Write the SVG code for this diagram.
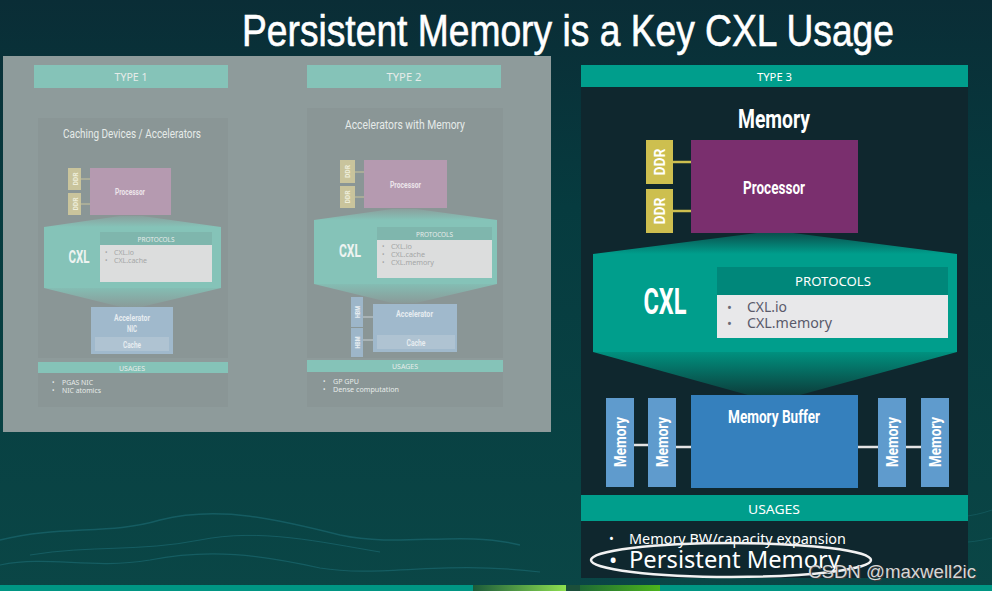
<svg xmlns="http://www.w3.org/2000/svg" width="992" height="591" viewBox="0 0 992 591">
<defs>
<linearGradient id="bg" x1="0" y1="0" x2="0" y2="1">
<stop offset="0" stop-color="#0a2d36"/>
<stop offset="0.35" stop-color="#063b3f"/>
<stop offset="1" stop-color="#0a4646"/>
</linearGradient>
<linearGradient id="wedgeTop3" x1="0" y1="0" x2="0" y2="1">
<stop offset="0" stop-color="#0a4f4c"/>
<stop offset="1" stop-color="#009e8c"/>
</linearGradient>
<linearGradient id="wedgeBot3" x1="0" y1="0" x2="0" y2="1">
<stop offset="0" stop-color="#00917f"/>
<stop offset="1" stop-color="#0c3e3c"/>
</linearGradient>
<linearGradient id="wedgeTopF" x1="0" y1="0" x2="0" y2="1">
<stop offset="0" stop-color="#8aa09d"/>
<stop offset="1" stop-color="#85c3b8"/>
</linearGradient>
<linearGradient id="wedgeBotF" x1="0" y1="0" x2="0" y2="1">
<stop offset="0" stop-color="#84bdb3"/>
<stop offset="1" stop-color="#8a9b99"/>
</linearGradient>
<linearGradient id="green1" x1="0" y1="0" x2="1" y2="0">
<stop offset="0" stop-color="#1b5a3a"/>
<stop offset="1" stop-color="#8ee050"/>
</linearGradient>
<linearGradient id="green2" x1="0" y1="0" x2="1" y2="0">
<stop offset="0" stop-color="#1f6a34"/>
<stop offset="1" stop-color="#4cb51c"/>
</linearGradient>
<style>
.cd{font-family:Roboto,"Liberation Sans",sans-serif;font-weight:bold;fill:#ffffff;text-anchor:middle}
.rg{font-family:"Noto Sans","Liberation Sans",sans-serif;fill:#ffffff}
.mid{text-anchor:middle}
.fw{fill:#e6ebe9}
.fb{fill:#a4a6a6}
.panelF{fill:#8a9696}
.hdrF{fill:#85c3b8}
.cxlF{fill:#85c3b8}
.protF{fill:#7fb6ad}
.bodyF{fill:#dcdddd}
.ddrF{fill:#c9c49c}
.procF{fill:#b59ab0}
.accF{fill:#a0b9cc}
.cacheF{fill:#afc3d2}
.hbmF{fill:#9db6c9}
.lnF{stroke:#c9c49c;stroke-width:1}
.lnH{stroke:#c8d0d4;stroke-width:1}
.teal{fill:#009e8c}
.ddr{fill:#cdbf4f}
.mem{fill:#5f9bcd}
.lnW{stroke:#e4e4e4;stroke-width:2.5}
.lnD{stroke:#cdbf4f;stroke-width:2.5}
</style>
</defs>

<!-- background -->
<rect x="0" y="0" width="992" height="591" fill="url(#bg)"/>
<g fill="none" stroke="#2b8a98" stroke-opacity="0.35">
<path d="M0,540 C60,525 110,535 160,520 C220,505 280,520 340,535 C400,548 460,530 520,545" stroke-width="1.5"/>
<path d="M0,565 C50,555 90,570 150,560 C210,548 260,555 320,568 C380,578 440,560 540,572" stroke-width="1.2"/>
<path d="M30,555 C90,545 140,552 200,540 C260,528 320,542 380,552" stroke-width="1"/>
</g>
<g fill="none" stroke="#2b8a98" stroke-opacity="0.25">
<path d="M880,520 C910,512 950,525 992,510" stroke-width="1"/>
<path d="M860,545 C900,535 945,550 992,538" stroke-width="1"/>
</g>
<rect x="0" y="585" width="992" height="6" fill="#009684"/>
<rect x="473" y="585" width="93" height="6" fill="url(#green1)"/>
<rect x="566" y="585" width="14" height="6" fill="#1b4f3a"/>
<rect x="580" y="585" width="80" height="6" fill="url(#green2)"/>

<!-- title -->
<text id="title" x="242" y="46" font-family="'Liberation Sans',Arial,sans-serif" font-size="44" fill="#ffffff" stroke="#ffffff" stroke-width="0.6" textLength="652" lengthAdjust="spacingAndGlyphs">Persistent Memory is a Key CXL Usage</text>

<!-- faded left panel -->
<rect x="3" y="56" width="548" height="376" fill="#8e9b9b"/>

<g id="type1">
<rect x="34" y="65" width="194" height="23" class="hdrF"/>
<text x="131" y="81" class="rg mid fw" font-size="10" textLength="33" lengthAdjust="spacingAndGlyphs">TYPE 1</text>
<rect x="38" y="118" width="190" height="240" class="panelF"/>
<text x="132" y="138" class="cd" font-size="12" style="fill:#e6ebe9;font-weight:normal" textLength="138" lengthAdjust="spacingAndGlyphs">Caching Devices / Accelerators</text>
<rect x="68" y="168" width="13" height="22" class="ddrF"/>
<rect x="68" y="193" width="13" height="22" class="ddrF"/>
<line x1="81" y1="179" x2="90" y2="179" class="lnF"/>
<line x1="81" y1="204" x2="90" y2="204" class="lnF"/>
<text transform="translate(77.5,179) rotate(-90)" class="cd" font-size="7" style="fill:#eeeeda" textLength="13" lengthAdjust="spacingAndGlyphs">DDR</text>
<text transform="translate(77.5,204) rotate(-90)" class="cd" font-size="7" style="fill:#eeeeda" textLength="13" lengthAdjust="spacingAndGlyphs">DDR</text>
<rect x="90" y="168" width="81" height="47" class="procF"/>
<text x="130" y="195" class="cd" font-size="9" style="fill:#ece4ea" textLength="30" lengthAdjust="spacingAndGlyphs">Processor</text>
<polygon points="44,227 120,216 142,216 221,227" fill="url(#wedgeTopF)"/>
<rect x="44" y="227" width="177" height="61" class="cxlF"/>
<polygon points="44,288 221,288 141,307 121,307" fill="url(#wedgeBotF)"/>
<text x="79" y="263" class="cd" font-size="18" style="fill:#eef3f1" textLength="21" lengthAdjust="spacingAndGlyphs">CXL</text>
<rect x="100" y="232" width="112" height="13" class="protF"/>
<rect x="100" y="245" width="112" height="37" class="bodyF"/>
<text x="156" y="242" class="rg mid fw" font-size="7" textLength="37" lengthAdjust="spacingAndGlyphs">PROTOCOLS</text>
<text x="105" y="255" class="rg fb" font-size="6.5">•</text>
<text x="114" y="255" class="rg fb" font-size="7" textLength="20" lengthAdjust="spacingAndGlyphs">CXL.io</text>
<text x="105" y="263" class="rg fb" font-size="6.5">•</text>
<text x="114" y="263" class="rg fb" font-size="7" textLength="33" lengthAdjust="spacingAndGlyphs">CXL.cache</text>
<rect x="91" y="307" width="82" height="47" class="accF"/>
<text x="132" y="321" class="cd" font-size="9" style="fill:#e6ecf0" textLength="36" lengthAdjust="spacingAndGlyphs">Accelerator</text>
<text x="132" y="332" class="cd" font-size="9" style="fill:#e6ecf0" textLength="10" lengthAdjust="spacingAndGlyphs">NIC</text>
<rect x="95" y="337" width="74" height="14" class="cacheF"/>
<text x="132" y="347.5" class="cd" font-size="9" style="fill:#e6ecf0" textLength="18" lengthAdjust="spacingAndGlyphs">Cache</text>
<rect x="38" y="362" width="190" height="11" class="hdrF"/>
<text x="132" y="370.5" class="rg mid fw" font-size="7" textLength="26" lengthAdjust="spacingAndGlyphs">USAGES</text>
<rect x="38" y="373" width="190" height="34" class="panelF"/>
<text x="52" y="385" class="rg fw" font-size="6.5">•</text>
<text x="62" y="385" class="rg fw" font-size="7" textLength="31" lengthAdjust="spacingAndGlyphs">PGAS NIC</text>
<text x="52" y="393" class="rg fw" font-size="6.5">•</text>
<text x="62" y="393" class="rg fw" font-size="7" textLength="39" lengthAdjust="spacingAndGlyphs">NIC atomics</text>
</g>

<g id="type2">
<rect x="307" y="65" width="194" height="23" class="hdrF"/>
<text x="404" y="81" class="rg mid fw" font-size="10" textLength="35" lengthAdjust="spacingAndGlyphs">TYPE 2</text>
<rect x="307" y="108" width="196" height="250" class="panelF"/>
<text x="405" y="129" class="cd" font-size="12" style="fill:#e6ebe9;font-weight:normal" textLength="120" lengthAdjust="spacingAndGlyphs">Accelerators with Memory</text>
<rect x="340" y="160" width="15" height="23" class="ddrF"/>
<rect x="340" y="186" width="15" height="22" class="ddrF"/>
<line x1="355" y1="172" x2="364" y2="172" class="lnF"/>
<line x1="355" y1="197" x2="364" y2="197" class="lnF"/>
<text transform="translate(350,171.5) rotate(-90)" class="cd" font-size="7" style="fill:#eeeeda" textLength="13" lengthAdjust="spacingAndGlyphs">DDR</text>
<text transform="translate(350,197) rotate(-90)" class="cd" font-size="7" style="fill:#eeeeda" textLength="13" lengthAdjust="spacingAndGlyphs">DDR</text>
<rect x="364" y="160" width="83" height="48" class="procF"/>
<text x="405.5" y="188" class="cd" font-size="9" style="fill:#ece4ea" textLength="31" lengthAdjust="spacingAndGlyphs">Processor</text>
<polygon points="314,220 392,209 416,209 497,220" fill="url(#wedgeTopF)"/>
<rect x="314" y="220" width="183" height="64" class="cxlF"/>
<polygon points="314,284 497,284 416,303 392,303" fill="url(#wedgeBotF)"/>
<text x="350" y="257" class="cd" font-size="18" style="fill:#eef3f1" textLength="22" lengthAdjust="spacingAndGlyphs">CXL</text>
<rect x="377" y="227" width="115" height="13" class="protF"/>
<rect x="377" y="240" width="115" height="38" class="bodyF"/>
<text x="434.5" y="236.5" class="rg mid fw" font-size="7" textLength="37" lengthAdjust="spacingAndGlyphs">PROTOCOLS</text>
<text x="382" y="249" class="rg fb" font-size="6.5">•</text>
<text x="391" y="249" class="rg fb" font-size="7" textLength="21" lengthAdjust="spacingAndGlyphs">CXL.io</text>
<text x="382" y="257" class="rg fb" font-size="6.5">•</text>
<text x="391" y="257" class="rg fb" font-size="7" textLength="34" lengthAdjust="spacingAndGlyphs">CXL.cache</text>
<text x="382" y="265" class="rg fb" font-size="6.5">•</text>
<text x="391" y="265" class="rg fb" font-size="7" textLength="43" lengthAdjust="spacingAndGlyphs">CXL.memory</text>
<rect x="351" y="297" width="12" height="30" class="hbmF"/>
<rect x="351" y="328" width="12" height="29" class="hbmF"/>
<line x1="363" y1="317" x2="373" y2="317" class="lnH"/>
<line x1="363" y1="340" x2="373" y2="340" class="lnH"/>
<text transform="translate(359.5,312) rotate(-90)" class="cd" font-size="6.5" style="fill:#e6ecf0" textLength="12" lengthAdjust="spacingAndGlyphs">HBM</text>
<text transform="translate(359.5,342.5) rotate(-90)" class="cd" font-size="6.5" style="fill:#e6ecf0" textLength="12" lengthAdjust="spacingAndGlyphs">HBM</text>
<rect x="373" y="304" width="84" height="48" class="accF"/>
<text x="414.5" y="317" class="cd" font-size="9" style="fill:#e6ecf0" textLength="37" lengthAdjust="spacingAndGlyphs">Accelerator</text>
<rect x="377" y="335" width="78" height="14" class="cacheF"/>
<text x="416" y="345.5" class="cd" font-size="9" style="fill:#e6ecf0" textLength="19" lengthAdjust="spacingAndGlyphs">Cache</text>
<rect x="307" y="360" width="196" height="12" class="hdrF"/>
<text x="405" y="369" class="rg mid fw" font-size="7" textLength="26" lengthAdjust="spacingAndGlyphs">USAGES</text>
<rect x="307" y="372" width="196" height="35" class="panelF"/>
<text x="323" y="384" class="rg fw" font-size="6.5">•</text>
<text x="333" y="384" class="rg fw" font-size="7" textLength="26" lengthAdjust="spacingAndGlyphs">GP GPU</text>
<text x="323" y="392" class="rg fw" font-size="6.5">•</text>
<text x="333" y="392" class="rg fw" font-size="7" textLength="66" lengthAdjust="spacingAndGlyphs">Dense computation</text>
</g>

<!-- type 3 -->
<g id="type3">
<rect x="581" y="65" width="387" height="513" fill="#0f272e"/>
<rect x="581" y="65" width="387" height="22" class="teal"/>
<text x="774.5" y="81" class="rg mid" font-size="11.5" textLength="35" lengthAdjust="spacingAndGlyphs">TYPE 3</text>
<text x="774" y="128" class="cd" font-size="25" textLength="72" lengthAdjust="spacingAndGlyphs">Memory</text>
</g>

<g id="connectors">
<line x1="673" y1="162" x2="691" y2="162" class="lnD"/>
<line x1="673" y1="211" x2="691" y2="211" class="lnD"/>
<line x1="634" y1="445" x2="648" y2="445" class="lnW"/>
<line x1="676" y1="447" x2="691" y2="447" class="lnW"/>
<line x1="858" y1="447" x2="878" y2="447" class="lnW"/>
<line x1="906" y1="447" x2="921" y2="447" class="lnW"/>
</g>

<g id="ddr1">
<rect x="646" y="140" width="27" height="44" class="ddr"/>
<text transform="translate(660,162) rotate(-90)" class="cd" font-size="15" dy="5" textLength="27" lengthAdjust="spacingAndGlyphs">DDR</text>
</g>
<g id="ddr2">
<rect x="646" y="189" width="27" height="44" class="ddr"/>
<text transform="translate(660,211) rotate(-90)" class="cd" font-size="15" dy="5" textLength="27" lengthAdjust="spacingAndGlyphs">DDR</text>
</g>
<g id="processor">
<rect x="691" y="140" width="167" height="93" fill="#7a2f6e"/>
<text x="774" y="194" class="cd" font-size="18" textLength="62" lengthAdjust="spacingAndGlyphs">Processor</text>
</g>

<g id="cxl">
<polygon points="593,254 757,233 793,233 957,254" fill="url(#wedgeTop3)"/>
<rect x="593" y="254" width="364" height="98" class="teal"/>
<polygon points="593,352 957,352 800,395 748,395" fill="url(#wedgeBot3)"/>
<text x="665" y="314" class="cd" font-size="37" textLength="43" lengthAdjust="spacingAndGlyphs">CXL</text>
<rect x="717" y="267" width="231" height="28" fill="#00877a"/>
<rect x="717" y="295" width="231" height="43" fill="#e8e8ea"/>
<text x="833" y="286" class="rg mid" font-size="13" textLength="76" lengthAdjust="spacingAndGlyphs">PROTOCOLS</text>
<text x="727" y="312" class="rg" font-size="13" style="fill:#6a6a78">•</text>
<text x="747" y="312" class="rg" font-size="15" style="fill:#5a5a6a" textLength="40" lengthAdjust="spacingAndGlyphs">CXL.io</text>
<text x="727" y="328" class="rg" font-size="13" style="fill:#6a6a78">•</text>
<text x="747" y="328" class="rg" font-size="15" style="fill:#5a5a6a" textLength="85" lengthAdjust="spacingAndGlyphs">CXL.memory</text>
</g>

<g id="memory1">
<rect x="606" y="398" width="28" height="89" class="mem"/>
<text transform="translate(620,442) rotate(-90)" class="cd" font-size="17" dy="6" textLength="50" lengthAdjust="spacingAndGlyphs">Memory</text>
</g>
<g id="memory2">
<rect x="648" y="398" width="28" height="89" class="mem"/>
<text transform="translate(662,442) rotate(-90)" class="cd" font-size="17" dy="6" textLength="50" lengthAdjust="spacingAndGlyphs">Memory</text>
</g>
<g id="memory-buffer">
<rect x="691" y="395" width="167" height="93" fill="#3580bd"/>
<text x="774" y="423" class="cd" font-size="18" textLength="92" lengthAdjust="spacingAndGlyphs">Memory Buffer</text>
</g>
<g id="memory3">
<rect x="878" y="398" width="28" height="89" class="mem"/>
<text transform="translate(892,442) rotate(-90)" class="cd" font-size="17" dy="6" textLength="50" lengthAdjust="spacingAndGlyphs">Memory</text>
</g>
<g id="memory4">
<rect x="921" y="398" width="28" height="89" class="mem"/>
<text transform="translate(935,442) rotate(-90)" class="cd" font-size="17" dy="6" textLength="50" lengthAdjust="spacingAndGlyphs">Memory</text>
</g>

<g id="usages">
<rect x="581" y="495" width="387" height="26" class="teal"/>
<text x="774" y="514" class="rg mid" font-size="13" textLength="52" lengthAdjust="spacingAndGlyphs">USAGES</text>
<text x="609" y="543" class="rg" font-size="13">•</text>
<text x="629" y="544" class="rg" font-size="14" textLength="217" lengthAdjust="spacingAndGlyphs">Memory BW/capacity expansion</text>
<text x="609" y="568" class="rg" font-size="22">•</text>
<text x="629" y="568" class="rg" font-size="23" textLength="211" lengthAdjust="spacingAndGlyphs">Persistent Memory</text>
<ellipse cx="731" cy="560" rx="140" ry="17" fill="none" stroke="#f2f2f2" stroke-width="2.5"/>
</g>

<text x="809" y="579" font-family="'Liberation Sans',Arial,sans-serif" font-size="18" fill="#3a3a3a" textLength="168" lengthAdjust="spacingAndGlyphs">CSDN @maxwell2ic</text>
<text x="808" y="578" font-family="'Liberation Sans',Arial,sans-serif" font-size="18" fill="#d6d6d6" textLength="168" lengthAdjust="spacingAndGlyphs">CSDN @maxwell2ic</text>
</svg>
